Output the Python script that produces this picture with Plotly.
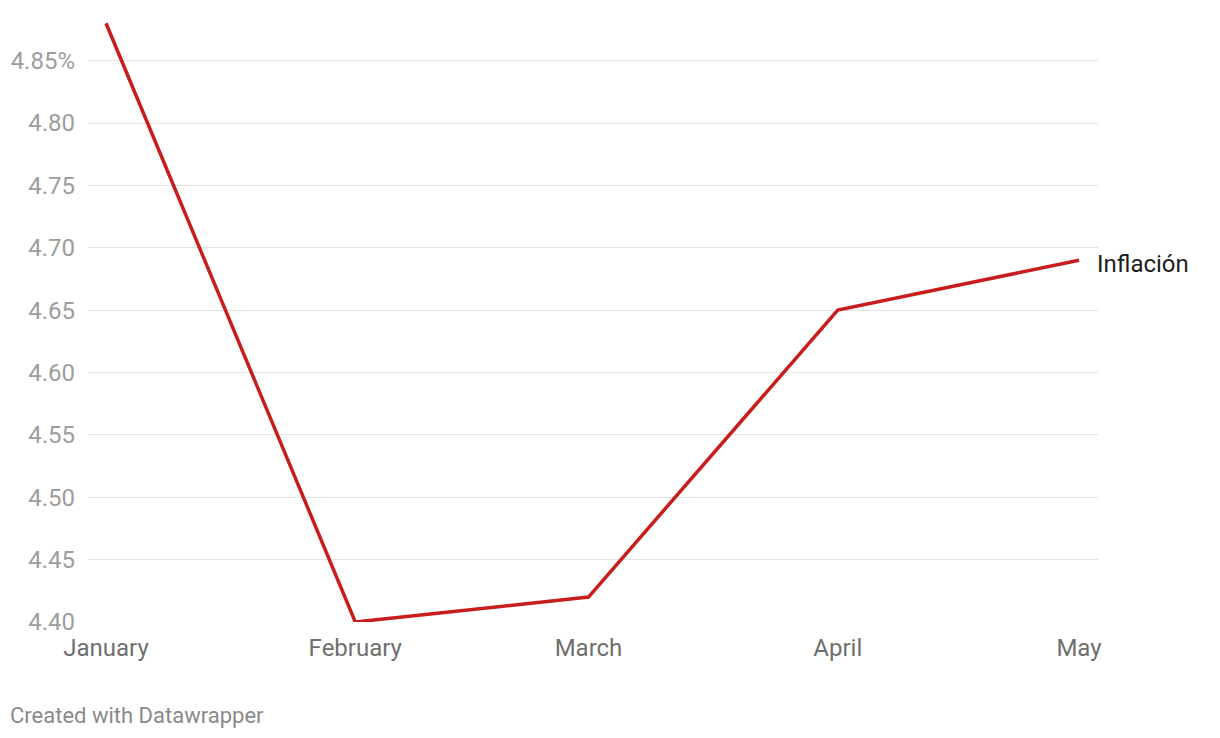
import plotly.graph_objects as go

months = ["January", "February", "March", "April", "May"]
dates = ["2024-01-01", "2024-02-01", "2024-03-01", "2024-04-01", "2024-05-01"]
inflation = [4.88, 4.40, 4.42, 4.65, 4.69]
series_name = "Inflación"

y_ticks = [4.40, 4.45, 4.50, 4.55, 4.60, 4.65, 4.70, 4.75, 4.80, 4.85]
y_ticktext = ["4.40", "4.45", "4.50", "4.55", "4.60", "4.65", "4.70", "4.75", "4.80", "4.85%"]

W, H = 1220, 738
L, R, T, B = 88, 122, 17, 116
pw, ph = W - L - R, H - T - B

fig = go.Figure()
fig.add_trace(go.Scatter(
    x=dates, y=inflation, mode="lines", name=series_name,
    line=dict(color="#c71e1d", width=3.5), hoverinfo="skip",
))

fig.add_annotation(
    x=dates[-1], y=inflation[-1], text=series_name, showarrow=False,
    xanchor="left", yanchor="middle", xshift=16, yshift=-4,
    font=dict(family="Roboto", size=24, color="#1d1d1d"),
)
fig.add_annotation(
    x=(8 - L) / pw, y=(H - B - 715) / ph, xref="paper", yref="paper",
    text="Created with Datawrapper",
    showarrow=False, xanchor="left", yanchor="middle",
    font=dict(family="Roboto", size=22, color="#8a8a8a"),
)

fig.update_layout(
    width=W, height=H,
    margin=dict(l=L, r=R, t=T, b=B, pad=0),
    plot_bgcolor="white", paper_bgcolor="white",
    showlegend=False,
    font=dict(family="Roboto"),
    xaxis=dict(
        type="date",
        range=["2023-12-29 18:17", "2024-05-03 08:43"],
        tickvals=dates, ticktext=months,
        showgrid=False, zeroline=False, showline=False,
        ticks="", ticklabelstandoff=9,
        tickfont=dict(family="Roboto", size=24, color="#6f6f6f"),
    ),
    yaxis=dict(
        range=[4.40, 4.885],
        tickvals=y_ticks, ticktext=y_ticktext,
        showgrid=True, gridcolor="#e3e3e3", gridwidth=1,
        zeroline=False, showline=False, ticks="",
        ticklabelstandoff=12,
        tickfont=dict(family="Roboto", size=24, color="#9d9d9d"),
    ),
)

fig.write_html("out.html", config={"displayModeBar": False},
               post_script="document.body.style.margin='0';")
